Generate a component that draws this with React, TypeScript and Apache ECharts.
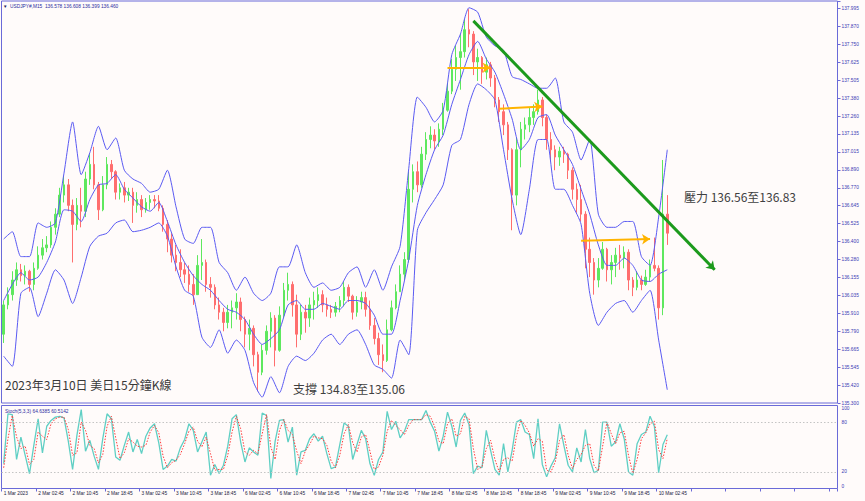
import React, { useEffect, useRef } from 'react';
import * as echarts from 'echarts';

const BASE = 135.3;
const SLOTS = 194;
const tickLabels = ['1 Mar 2023', '2 Mar 02:45', '2 Mar 10:45', '2 Mar 18:45', '3 Mar 02:45', '3 Mar 10:45', '3 Mar 18:45', '6 Mar 02:45', '6 Mar 10:45', '6 Mar 18:45', '7 Mar 02:45', '7 Mar 10:45', '7 Mar 18:45', '8 Mar 02:45', '8 Mar 10:45', '8 Mar 18:45', '9 Mar 02:45', '9 Mar 10:45', '9 Mar 18:45', '10 Mar 02:45'];

const firstOpen = 135.77;
const closes = [135.97, 136.04, 136.14, 136.21, 136.17, 136.20, 136.11, 136.22, 136.31, 136.36,
  136.38, 136.50, 136.59, 136.72, 136.79, 136.65, 136.52, 136.65, 136.61, 136.83,
  136.93, 136.79, 136.62, 136.79, 136.93, 136.88, 136.74, 136.77, 136.72, 136.74,
  136.65, 136.69, 136.62, 136.67, 136.69, 136.68, 136.63, 136.52, 136.42, 136.31,
  136.26, 136.21, 136.18, 136.11, 136.04, 136.24, 136.26, 136.11, 136.09, 135.97,
  135.92, 135.85, 135.92, 135.95, 135.99, 135.87, 135.77, 135.81, 135.63, 135.51,
  135.66, 135.79, 135.88, 135.66, 135.90, 136.07, 136.11, 135.97, 135.77, 135.92,
  135.88, 135.97, 136.00, 136.04, 135.97, 135.94, 135.92, 135.96, 136.00, 136.09,
  136.03, 135.92, 135.99, 136.02, 135.94, 135.83, 135.74, 135.63, 135.59, 135.80,
  135.95, 136.06, 136.18, 136.28, 136.76, 136.88, 136.79, 137.00, 137.10, 137.13,
  137.09, 137.17, 137.30, 137.43, 137.58, 137.66, 137.70, 137.85, 137.82, 137.63,
  137.66, 137.56, 137.61, 137.52, 137.37, 137.29, 137.20, 137.03, 136.72, 137.03,
  137.17, 137.20, 137.25, 137.29, 137.37, 137.25, 137.10, 137.03, 136.98, 137.02,
  137.00, 136.89, 136.76, 136.69, 136.59, 136.35, 136.26, 136.14, 136.22, 136.35,
  136.21, 136.26, 136.31, 136.29, 136.33, 136.14, 136.09, 136.14, 136.11, 136.16,
  136.24, 136.22, 135.95, 136.59, 136.46];
const highs = [136.00, 136.09, 136.20, 136.26, 136.25, 136.24, 136.21, 136.26, 136.37, 136.42,
  136.44, 136.54, 136.63, 136.77, 136.85, 136.83, 136.69, 136.70, 136.77, 136.88,
  137.00, 137.05, 136.81, 136.85, 136.98, 136.96, 136.89, 136.80, 136.81, 136.77,
  136.77, 136.74, 136.72, 136.70, 136.72, 136.72, 136.72, 136.65, 136.55, 136.46,
  136.38, 136.35, 136.26, 136.24, 136.18, 136.31, 136.42, 136.28, 136.16, 136.11,
  136.02, 135.95, 135.97, 136.00, 136.05, 136.02, 135.89, 135.87, 135.83, 135.65,
  135.70, 135.83, 135.92, 135.90, 135.96, 136.12, 136.19, 136.13, 136.04, 135.97,
  135.97, 136.02, 136.06, 136.09, 136.07, 136.02, 135.97, 135.99, 136.03, 136.13,
  136.11, 136.04, 136.03, 136.06, 136.06, 136.00, 135.88, 135.78, 135.70, 135.87,
  136.00, 136.11, 136.24, 136.33, 136.88, 136.93, 136.95, 137.05, 137.15, 137.19,
  137.17, 137.21, 137.35, 137.49, 137.65, 137.74, 137.82, 137.92, 137.99, 137.84,
  137.72, 137.67, 137.66, 137.63, 137.54, 137.39, 137.34, 137.22, 137.04, 137.11,
  137.22, 137.25, 137.32, 137.34, 137.44, 137.39, 137.27, 137.15, 137.06, 137.05,
  137.05, 137.01, 136.91, 136.80, 136.79, 136.61, 136.43, 136.29, 136.29, 136.40,
  136.36, 136.31, 136.36, 136.38, 136.37, 136.35, 136.16, 136.20, 136.17, 136.21,
  136.28, 136.43, 136.24, 136.96, 136.72];
const lows = [135.71, 135.94, 136.00, 136.10, 136.13, 136.11, 136.06, 136.07, 136.21, 136.28,
  136.33, 136.36, 136.45, 136.57, 136.67, 136.61, 136.26, 136.48, 136.50, 136.57,
  136.79, 136.76, 136.55, 136.61, 136.76, 136.83, 136.69, 136.69, 136.67, 136.68,
  136.53, 136.60, 136.57, 136.60, 136.62, 136.63, 136.61, 136.47, 136.33, 136.26,
  136.20, 136.16, 136.12, 136.06, 135.97, 136.04, 136.14, 136.06, 136.02, 135.94,
  135.87, 135.79, 135.81, 135.81, 135.87, 135.79, 135.68, 135.66, 135.55, 135.38,
  135.49, 135.63, 135.68, 135.55, 135.65, 135.88, 136.00, 135.89, 135.68, 135.73,
  135.78, 135.82, 135.87, 135.95, 135.92, 135.89, 135.88, 135.89, 135.92, 135.96,
  135.99, 135.87, 135.89, 135.94, 135.89, 135.80, 135.70, 135.56, 135.51, 135.58,
  135.79, 135.94, 136.06, 136.14, 136.26, 136.67, 136.74, 136.77, 136.96, 137.04,
  137.03, 137.05, 137.13, 137.29, 137.41, 137.50, 137.44, 137.66, 137.73, 137.54,
  137.50, 137.48, 137.51, 137.46, 137.32, 137.22, 137.13, 136.96, 136.48, 136.65,
  136.91, 137.10, 137.15, 137.20, 137.27, 137.19, 137.03, 136.95, 136.89, 136.92,
  136.94, 136.83, 136.69, 136.60, 136.54, 136.22, 136.16, 136.04, 136.09, 136.21,
  136.13, 136.11, 136.16, 136.21, 136.22, 136.07, 136.03, 136.07, 136.07, 136.10,
  136.13, 136.20, 135.87, 135.90, 136.38];

// bands: one reading every 2 bars
const upperBand = [136.42, 136.47, 136.30, 136.30, 136.53, 136.50, 136.53, 136.87, 137.22, 136.86,
  137.01, 137.19, 137.03, 137.11, 136.89, 136.83, 136.80, 136.74, 136.76, 136.89,
  136.64, 136.42, 136.39, 136.50, 136.50, 136.26, 136.19, 136.07, 136.16, 136.05,
  136.00, 136.05, 136.23, 136.23, 136.38, 136.19, 136.09, 136.12, 136.07, 136.09,
  136.19, 136.23, 136.09, 136.21, 136.07, 136.23, 136.37, 136.90, 137.39, 137.32,
  137.22, 137.30, 137.68, 137.82, 138.00, 137.97, 137.80, 137.74, 137.71, 137.53,
  137.51, 137.48, 137.45, 137.45, 137.52, 137.22, 137.15, 136.96, 137.10, 136.59,
  136.50, 136.50, 136.54, 136.54, 136.30, 136.24, 136.57, 137.03];
const middleBand = [136.00, 136.11, 136.19, 136.14, 136.16, 136.26, 136.40, 136.62, 136.61, 136.54,
  136.69, 136.79, 136.80, 136.86, 136.76, 136.70, 136.64, 136.61, 136.67, 136.54,
  136.38, 136.26, 136.17, 136.11, 136.07, 136.00, 135.94, 135.92, 135.87, 135.77,
  135.70, 135.74, 135.80, 135.97, 136.00, 135.94, 135.94, 135.98, 135.96, 135.94,
  136.00, 136.00, 135.98, 135.90, 135.77, 135.77, 136.00, 136.28, 136.65, 136.86,
  137.03, 137.13, 137.34, 137.51, 137.68, 137.77, 137.65, 137.56, 137.41, 137.24,
  137.03, 137.10, 137.25, 137.27, 137.13, 137.03, 136.93, 136.76, 136.59, 136.38,
  136.24, 136.24, 136.29, 136.24, 136.14, 136.13, 136.18, 136.21];
const lowerBand = [135.62, 135.55, 136.05, 136.09, 135.89, 136.05, 136.21, 136.14, 135.98, 136.16,
  136.37, 136.44, 136.46, 136.53, 136.55, 136.47, 136.48, 136.50, 136.53, 136.44,
  136.23, 136.07, 136.03, 135.75, 135.68, 135.80, 135.64, 135.73, 135.66, 135.44,
  135.34, 135.48, 135.37, 135.55, 135.62, 135.59, 135.64, 135.73, 135.77, 135.70,
  135.77, 135.80, 135.70, 135.56, 135.53, 135.47, 135.73, 135.63, 136.48, 136.60,
  136.69, 136.79, 137.06, 137.10, 137.34, 137.48, 137.44, 137.37, 137.03, 136.69,
  136.45, 136.76, 137.10, 137.10, 136.76, 136.76, 136.65, 136.52, 136.05, 135.83,
  135.92, 135.98, 136.00, 135.92, 136.00, 136.07, 135.73, 135.39];

const stochK = [30, 90, 89, 35, 62, 40, 18, 52, 84, 43,
  75, 82, 86, 87, 85, 57, 23, 64, 95, 45,
  58, 39, 23, 60, 90, 84, 38, 34, 52, 68,
  44, 59, 42, 63, 73, 78, 55, 23, 27, 35,
  33, 49, 59, 78, 70, 44, 56, 68, 16, 29,
  18, 28, 51, 84, 89, 56, 32, 49, 44, 40,
  91, 88, 12, 57, 82, 83, 56, 74, 16, 44,
  46, 60, 66, 57, 63, 42, 24, 26, 53, 79,
  75, 35, 53, 70, 60, 30, 16, 35, 44, 93,
  71, 81, 61, 69, 83, 83, 83, 83, 94, 80,
  69, 45, 63, 92, 75, 50, 82, 91, 77, 18,
  27, 25, 70, 46, 23, 16, 54, 20, 46, 80,
  83, 68, 65, 36, 84, 29, 14, 27, 37, 78,
  52, 28, 20, 49, 32, 71, 36, 19, 22, 80,
  80, 51, 56, 78, 60, 20, 16, 54, 65, 68,
  87, 75, 19, 53, 64.64];
const stochD = [25, 60, 88, 62, 48, 51, 29, 35, 68, 63,
  59, 78, 84, 86, 86, 71, 40, 43, 80, 70,
  52, 48, 31, 41, 75, 87, 61, 36, 43, 60,
  56, 51, 50, 52, 68, 76, 67, 39, 25, 31,
  34, 41, 54, 69, 74, 57, 50, 62, 42, 22,
  23, 23, 40, 68, 87, 72, 44, 40, 46, 42,
  66, 89, 50, 35, 70, 83, 70, 65, 45, 30,
  45, 53, 63, 61, 60, 52, 33, 25, 40, 66,
  77, 55, 44, 62, 65, 45, 23, 26, 40, 69,
  82, 76, 71, 65, 76, 83, 83, 83, 89, 87,
  75, 57, 54, 78, 84, 63, 66, 87, 84, 48,
  23, 26, 48, 58, 35, 20, 35, 37, 33, 63,
  82, 76, 67, 51, 60, 57, 22, 20, 32, 58,
  65, 40, 24, 35, 41, 52, 54, 28, 21, 51,
  80, 66, 54, 67, 69, 40, 18, 35, 60, 67,
  78, 81, 47, 36, 60.51];

const lastPrice = 136.46;
const trendLine = [[109, 137.91], [165, 136.21]];
const orangeArrows = [
  [[103, 137.59], [113, 137.59]],
  [[115, 137.31], [125, 137.325]],
  [[134, 136.408], [150, 136.42]],
];

const FRAME = '#6a6ad8';
const BLUE = '#5a5af2';
const TINY = 'Liberation Sans';

export default function App() {
  const ref = useRef<HTMLDivElement>(null);
  useEffect(() => {
    const el = ref.current;
    if (!el) return;
    const chart = echarts.init(el, undefined, { renderer: 'svg' });
    const n = closes.length;
    const opens = [firstOpen, ...closes.slice(0, n - 1)];
    const candleData = closes.map((c, i) => [opens[i] - BASE, c - BASE, lows[i] - BASE, highs[i] - BASE]);
    const categories = Array.from({ length: SLOTS }, (_, i) =>
      i % 8 === 0 && i / 8 < tickLabels.length ? tickLabels[i / 8] : ''
    );
    const band = (arr: number[]) => arr.map((v, k) => [k * 2, v - BASE]);
    const bandSeries = (name: string, arr: number[], extra: any = {}) => ({
      name,
      type: 'line',
      xAxisIndex: 0,
      yAxisIndex: 0,
      data: band(arr),
      showSymbol: false,
      symbol: 'none',
      smooth: 0.2,
      lineStyle: { color: BLUE, width: 1 },
      z: 3,
      silent: true,
      ...extra,
    });

    const arrowData: any[] = [
      [
        { coord: [trendLine[0][0], trendLine[0][1] - BASE], lineStyle: { color: '#1c9a1c', width: 3, type: 'solid' } },
        { coord: [trendLine[1][0], trendLine[1][1] - BASE] },
      ],
      ...orangeArrows.map((a) => [
        { coord: [a[0][0], a[0][1] - BASE], lineStyle: { color: '#ffb400', width: 2, type: 'solid' } },
        { coord: [a[1][0], a[1][1] - BASE] },
      ]),
    ];

    const option: any = {
      animation: false,
      backgroundColor: '#fffbfa',
      grid: [
        { left: 1.5, top: 1, width: 836, height: 402, show: true, borderColor: FRAME, borderWidth: 1, backgroundColor: 'transparent' },
        { left: 1.5, top: 405.5, width: 836, height: 83, show: true, borderColor: FRAME, borderWidth: 1, backgroundColor: 'transparent' },
      ],
      xAxis: [
        {
          type: 'category', gridIndex: 0, data: categories, boundaryGap: true,
          axisLine: { show: false }, axisTick: { show: false }, axisLabel: { show: false }, splitLine: { show: false },
        },
        {
          type: 'category', gridIndex: 1, data: categories, boundaryGap: true,
          axisLine: { show: false },
          axisTick: { show: true, interval: 7, length: 3, lineStyle: { color: FRAME } },
          axisLabel: { show: true, interval: 7, fontSize: 4.8, fontFamily: TINY, color: '#1a1a40', align: 'left', margin: 2 },
          splitLine: { show: false },
        },
      ],
      yAxis: [
        {
          type: 'value', gridIndex: 0, position: 'right', min: 0, max: 2.746, interval: 0.1225,
          axisLine: { show: false },
          axisTick: { show: true, length: 3, lineStyle: { color: FRAME } },
          splitLine: { show: false },
          axisLabel: {
            fontSize: 4.8, fontFamily: TINY, color: '#3a3ab4', margin: 4,
            formatter: (v: number) => (v > 2.71 ? '' : (Math.floor((v + BASE) * 200 + 1e-6) / 200).toFixed(3)),
          },
        },
        {
          type: 'value', gridIndex: 1, position: 'right', min: 0, max: 100, interval: 20,
          axisLine: { show: false },
          axisTick: { show: false },
          splitLine: { show: false },
          axisLabel: {
            fontSize: 4.8, fontFamily: TINY, color: '#3a3ab4', margin: 4,
            verticalAlignMaxLabel: 'top', verticalAlignMinLabel: 'bottom',
            formatter: (v: number) => (v === 0 || v === 20 || v === 80 || v === 100 ? String(v) : ''),
          },
        },
      ],
      series: [
        {
          name: 'USDJPY', type: 'candlestick', xAxisIndex: 0, yAxisIndex: 0, data: candleData,
          barWidth: 2,
          itemStyle: { color: '#5ee85e', color0: '#ff6e6e', borderColor: '#5ee85e', borderColor0: '#ff6e6e', borderWidth: 1 },
          z: 2,
          silent: true,
          markLine: {
            silent: true, symbol: ['none', 'none'], animation: false,
            data: [{ yAxis: lastPrice - BASE }],
            lineStyle: { opacity: 0 },
            label: {
              show: true, position: 'end', distance: 1, formatter: lastPrice.toFixed(3),
              color: '#ffffff', backgroundColor: '#1c1c96', fontSize: 4.8, fontFamily: TINY, padding: [1.5, 2, 1, 2],
            },
          },
        },
        bandSeries('upper', upperBand, {
          markLine: {
            silent: true, animation: false, symbol: ['none', 'arrow'], symbolSize: 8,
            label: { show: false },
            data: arrowData,
          },
        }),
        bandSeries('middle', middleBand),
        bandSeries('lower', lowerBand),
        {
          name: 'K', type: 'line', xAxisIndex: 1, yAxisIndex: 1, data: stochK, showSymbol: false, symbol: 'none',
          lineStyle: { color: '#5fcfc4', width: 1.3 }, z: 3, silent: true,
          markLine: {
            silent: true, symbol: ['none', 'none'], animation: false, label: { show: false },
            lineStyle: { color: '#c4c4c4', type: [1.5, 2], width: 1 },
            data: [{ yAxis: 80 }, { yAxis: 20 }],
          },
        },
        {
          name: 'D', type: 'line', xAxisIndex: 1, yAxisIndex: 1, data: stochD, showSymbol: false, symbol: 'none',
          lineStyle: { color: '#ff3b3b', width: 1, type: [1.5, 1.5] }, z: 4, silent: true,
        },
      ],
      graphic: [
        { type: 'text', x: 3, y: 6, style: { text: '▼', fill: '#1a1a60', fontSize: 4.5, fontFamily: TINY, verticalAlign: 'middle' } },
        { type: 'text', x: 10, y: 6, style: { text: 'USDJPY#,M15  136.578 136.608 136.399 136.460', fill: '#2b2ba0', fontSize: 4.8, fontFamily: TINY, verticalAlign: 'middle' } },
        { type: 'text', x: 5, y: 411, style: { text: 'Stoch(5,3,3) 64.6385 60.5142', fill: '#2b2ba0', fontSize: 4.8, fontFamily: TINY, verticalAlign: 'middle' } },
        { type: 'text', x: 5, y: 384, style: { text: '2023年3月10日 美日15分鐘K線', fill: '#383838', fontSize: 12, fontFamily: 'Noto Sans CJK TC', verticalAlign: 'middle' } },
        { type: 'text', x: 293, y: 388, style: { text: '支撐 134.83至135.06', fill: '#404040', fontSize: 12, fontFamily: 'Noto Sans CJK TC', verticalAlign: 'middle' } },
        { type: 'text', x: 684, y: 196, style: { text: '壓力 136.56至136.83', fill: '#404040', fontSize: 12, fontFamily: 'Noto Sans CJK TC', verticalAlign: 'middle' } },
      ],
    };
    chart.setOption(option);
    return () => chart.dispose();
  }, []);
  return <div ref={ref} style={{ position: 'absolute', left: 0, top: 0, width: 865, height: 501 }} />;
}
